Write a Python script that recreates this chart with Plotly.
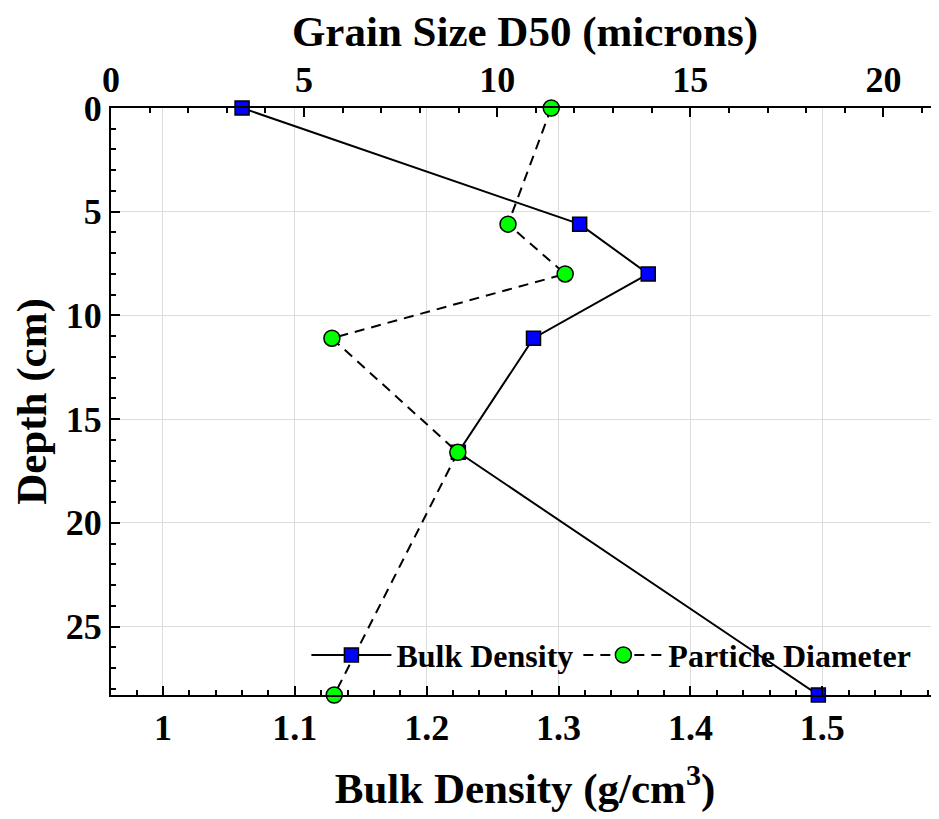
import plotly.graph_objects as go

# depth profile values
depth_cm       = [0.0, 5.6, 8.0, 11.1, 16.6, 28.3]
bulk_density   = [1.060, 1.316, 1.368, 1.281, 1.224, 1.497]
particle_d50   = [11.40, 10.28, 11.76, 5.72, 8.98, 5.78]

bulk_ticks  = [1.0, 1.1, 1.2, 1.3, 1.4, 1.5]
bulk_labels = ["1", "1.1", "1.2", "1.3", "1.4", "1.5"]

SERIF = "Liberation Serif, Times New Roman, serif"
_tick_font  = dict(family=SERIF, size=36, color="black", weight="bold")
_title_font = dict(family=SERIF, size=43, color="black", weight="bold")

fig = go.Figure()

fig.add_trace(go.Scatter(
    x=bulk_density, y=depth_cm,
    mode="lines+markers", name="Bulk Density",
    line=dict(color="black", width=2),
    marker=dict(symbol="square", size=14, color="#0000ff",
                line=dict(color="black", width=1.5)),
    cliponaxis=False,
))

fig.add_trace(go.Scatter(
    x=particle_d50, y=depth_cm, xaxis="x2",
    mode="lines+markers", name="Particle Diameter",
    line=dict(color="black", width=2, dash="10px,7px"),
    marker=dict(symbol="circle", size=16, color="#00ff00",
                line=dict(color="black", width=1.5)),
    cliponaxis=False,
))

_minor = dict(ticks="inside", ticklen=5, tickcolor="black", showgrid=False)

# page body has an 8px margin, so the figure is sized to fit the window
fig.update_layout(
    width=931, height=811,
    margin=dict(l=103, r=0, t=100, b=124),
    plot_bgcolor="white", paper_bgcolor="white",
    showlegend=True,
    legend=dict(
        orientation="h", x=0.236, y=0.068, xanchor="left", yanchor="middle",
        bgcolor="rgba(0,0,0,0)",
        font=dict(family=SERIF, size=32, color="black", weight="bold"),
        itemwidth=80, traceorder="normal",
    ),
    xaxis=dict(
        range=[0.9606, 1.5885],
        tickvals=bulk_ticks, ticktext=bulk_labels,
        ticks="inside", ticklen=9, tickcolor="black", tickwidth=1.5,
        minor=dict(dtick=0.02, tick0=1.0, **_minor),
        showgrid=True, gridcolor="#dcdcdc", gridwidth=1,
        showline=True, linecolor="black", linewidth=2,
        zeroline=False,
        tickfont=_tick_font,
        title=dict(text="Bulk Density (g/cm<sup>3</sup>)", font=_title_font, standoff=26),
    ),
    xaxis2=dict(
        overlaying="x", side="top",
        range=[0, 21.44],
        tick0=0, dtick=5,
        ticks="inside", ticklen=9, tickcolor="black", tickwidth=1.5,
        minor=dict(dtick=1, tick0=0, **_minor),
        showgrid=False,
        showline=True, linecolor="black", linewidth=2,
        zeroline=False,
        tickfont=_tick_font,
        title=dict(text="Grain Size D50 (microns)", font=_title_font, standoff=10),
    ),
    yaxis=dict(
        range=[28.3, 0],
        tick0=0, dtick=5,
        ticks="inside", ticklen=9, tickcolor="black", tickwidth=1.5,
        minor=dict(dtick=1, tick0=0, **_minor),
        showgrid=True, gridcolor="#dcdcdc", gridwidth=1,
        showline=True, linecolor="black", linewidth=2,
        zeroline=False,
        tickfont=_tick_font,
        title=dict(text="Depth (cm)", font=_title_font, standoff=6),
    ),
)

fig.write_html("out.html")
